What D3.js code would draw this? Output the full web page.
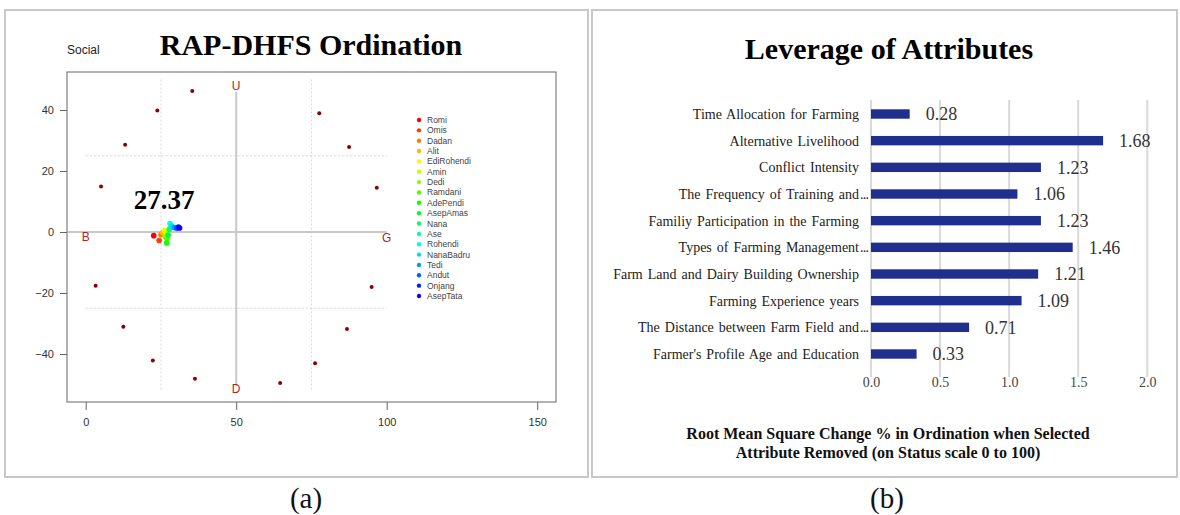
<!DOCTYPE html>
<html><head><meta charset="utf-8">
<script src="https://cdnjs.cloudflare.com/ajax/libs/d3/7.8.5/d3.min.js"></script>
<style>body{margin:0;background:#fff}svg{display:block}</style>
</head><body><svg id="c" width="1180" height="515"></svg>
<script>
// ---------- Data: panel (a) ordination ----------
const fisheryNames = ["Romi","Omis","Dadan","Alit","EdiRohendi","Amin","Dedi","Ramdani","AdePendi","AsepAmas","Nana","Ase","Rohendi","NanaBadru","Tedi","Andut","Onjang","AsepTata"];
const fisheryX = [22.6,24.4,25.0,25.6,26.2,26.6,26.4,27.0,26.9,27.4,27.8,28.3,28.0,28.6,29.4,30.2,30.8,31.2];
const fisheryY = [-1.2,-2.8,-0.9,-0.2,0.5,0.0,-1.5,-2.2,-3.6,-1.0,0.9,2.3,2.8,1.9,1.5,1.2,1.6,1.3];
const anchorX = [35.4,23.8,13.1,5.1,77.6,87.5,96.7,3.3,12.5,22.3,36.3,64.6,76.2,86.8,95.0];
const anchorY = [46.2,39.8,28.6,14.9,38.9,27.9,14.5,-17.6,-31.1,-42.1,-48.1,-49.5,-43.0,-31.8,-18.0];
const refLabels = ["U","D","B","G"];
const refX = [50,50,0,100];
const refY = [48,-51.5,-1.5,-2];
const xTicksA = [0,50,100,150];
const yTicksA = [-40,-20,0,20,40];
const scoreA = "27.37";

// ---------- Data: panel (b) leverage ----------
const attributes = ["Time Allocation for Farming","Alternative Livelihood","Conflict Intensity","The Frequency of Training and...","Familiy Participation in the Farming","Types of Farming Management...","Farm Land and Dairy Building Ownership","Farming Experience years","The Distance between Farm Field and...","Farmer's Profile Age and Education"];
const leverage = [0.28,1.68,1.23,1.06,1.23,1.46,1.21,1.09,0.71,0.33];
const xTicksB = [0,0.5,1,1.5,2];

const svg = d3.select("#c");
const SERIF = "'Liberation Serif','Times New Roman',serif";
const SANS = "'Liberation Sans',Arial,sans-serif";

// panel frames
svg.append("rect").attr("x",5).attr("y",10).attr("width",583).attr("height",467).attr("fill","none").attr("stroke","#c8c8c8").attr("stroke-width",2);
svg.append("rect").attr("x",592).attr("y",10).attr("width",585).attr("height",467).attr("fill","none").attr("stroke","#c8c8c8").attr("stroke-width",2);
svg.append("text").attr("x",306).attr("y",508).attr("text-anchor","middle").attr("font-family",SERIF).attr("font-size",29).attr("fill","#111").text("(a)");
svg.append("text").attr("x",887).attr("y",508).attr("text-anchor","middle").attr("font-family",SERIF).attr("font-size",29).attr("fill","#111").text("(b)");

// ---------- Panel (a) ----------
const xA = d3.scaleLinear().domain([0,150]).range([85.7,537.2]);
const yA = d3.scaleLinear().domain([-40,40]).range([354,110]);
const gA = svg.append("g");
gA.append("text").attr("x",311).attr("y",55).attr("text-anchor","middle").attr("font-family",SERIF).attr("font-weight","bold").attr("font-size",30).attr("fill","#000").text("RAP-DHFS Ordination");
gA.append("text").attr("x",67).attr("y",54).attr("font-family",SANS).attr("font-size",12).attr("fill","#222").text("Social");

// dotted guide lines
[25,75].forEach(v=>gA.append("line").attr("x1",xA(v)).attr("x2",xA(v)).attr("y1",yA(50)).attr("y2",yA(-52)).attr("stroke","#d8d8d8").attr("stroke-width",1).attr("stroke-dasharray","2,2"));
[25,-25].forEach(v=>gA.append("line").attr("x1",xA(0)).attr("x2",xA(100)).attr("y1",yA(v)).attr("y2",yA(v)).attr("stroke","#d8d8d8").attr("stroke-width",1).attr("stroke-dasharray","2,2"));
// solid reference lines
gA.append("line").attr("x1",xA(-6)).attr("x2",xA(100)).attr("y1",yA(0)).attr("y2",yA(0)).attr("stroke","#c8c8c8").attr("stroke-width",2);
gA.append("line").attr("x1",xA(50)).attr("x2",xA(50)).attr("y1",yA(46)).attr("y2",yA(-50.5)).attr("stroke","#c8c8c8").attr("stroke-width",2);

// plot box
gA.append("rect").attr("x",67).attr("y",72).attr("width",489).attr("height",330).attr("fill","none").attr("stroke","#666").attr("stroke-width",1);

// axes
const axB = d3.axisBottom(xA).tickValues(xTicksA).tickSize(8).tickPadding(8).tickFormat(d3.format("d"));
const gx = gA.append("g").attr("transform","translate(0,402)").call(axB);
gx.select(".domain").remove();
gx.selectAll("line").attr("stroke","#666");
gx.selectAll("text").attr("font-family",SANS).attr("font-size",11).attr("fill","#333");
const axL = d3.axisLeft(yA).tickValues(yTicksA).tickSize(7).tickPadding(6).tickFormat(d3.format("d"));
const gy = gA.append("g").attr("transform","translate(67,0)").call(axL);
gy.select(".domain").remove();
gy.selectAll("line").attr("stroke","#666");
gy.selectAll("text").attr("font-family",SANS).attr("font-size",11).attr("fill","#333");

// anchor points
gA.selectAll("circle.anc").data(anchorX.map((x,i)=>[x,anchorY[i]])).enter().append("circle")
  .attr("cx",d=>xA(d[0])).attr("cy",d=>yA(d[1])).attr("r",2).attr("fill","#8b0000");
// reference labels
gA.selectAll("text.ref").data(refLabels).enter().append("text")
  .attr("x",(d,i)=>xA(refX[i])).attr("y",(d,i)=>yA(refY[i])).attr("dy","0.35em").attr("text-anchor","middle")
  .attr("font-family",SANS).attr("font-size",12).attr("fill","#b22222").text(d=>d);
// score label
gA.append("text").attr("x",164).attr("y",209).attr("text-anchor","middle").attr("font-family",SERIF).attr("font-weight","bold").attr("font-size",27).attr("fill","#000").text(scoreA);

const col = i => d3.hsl(i*14.5,1,0.5).toString();
gA.selectAll("circle.f").data(fisheryNames).enter().append("circle")
  .attr("cx",(d,i)=>xA(fisheryX[i])).attr("cy",(d,i)=>yA(fisheryY[i])).attr("r",2.8).attr("fill",(d,i)=>col(i));

// legend
const lg = gA.append("g");
const ly = d3.scalePoint().domain(fisheryNames).range([120,296]);
fisheryNames.forEach((n,i)=>{
  lg.append("circle").attr("cx",419).attr("cy",ly(n)).attr("r",2.2).attr("fill",col(i));
  lg.append("text").attr("x",427).attr("y",ly(n)).attr("dy","0.35em").attr("font-family",SANS).attr("font-size",8.5).attr("fill","#444").text(n);
});

// ---------- Panel (b) ----------
const xB = d3.scaleLinear().domain([0,2]).range([871,1147.3]);
const yB = d3.scalePoint().domain(attributes).range([114,354]);
const gB = svg.append("g");
gB.append("text").attr("x",889).attr("y",59).attr("text-anchor","middle").attr("font-family",SERIF).attr("font-weight","bold").attr("font-size",30).attr("fill","#000").text("Leverage of Attributes");
gB.selectAll("line.grid").data(xTicksB).enter().append("line")
  .attr("x1",d=>xB(d)).attr("x2",d=>xB(d)).attr("y1",100).attr("y2",377).attr("stroke","#d9d9d9").attr("stroke-width",2);
gB.selectAll("rect.bar").data(attributes).enter().append("rect")
  .attr("x",xB(0)).attr("y",d=>yB(d)-4.7).attr("width",(d,i)=>xB(leverage[i])-xB(0)).attr("height",9.4).attr("fill","#1f2f8e");
gB.selectAll("text.val").data(attributes).enter().append("text")
  .attr("x",(d,i)=>xB(leverage[i])+16).attr("y",d=>yB(d)).attr("dy","0.35em")
  .attr("font-family",SERIF).attr("font-size",18).attr("fill","#333").text((d,i)=>leverage[i].toFixed(2));
attributes.forEach(a=>{
  const tr = a.endsWith("...");
  const base = tr ? a.slice(0,-3) : a;
  gB.append("text").attr("x",859).attr("y",yB(a)).attr("dy","0.35em").attr("text-anchor","end")
    .attr("font-family",SERIF).attr("font-size",14).attr("word-spacing",1.5).attr("fill","#222").text(base);
  if (tr) gB.append("text").attr("x",860).attr("y",yB(a)).attr("dy","0.35em")
    .attr("font-family",SERIF).attr("font-size",14).attr("letter-spacing",-0.8).attr("fill","#222").text("...");
});
const axBB = d3.axisBottom(xB).tickValues(xTicksB).tickSize(0).tickPadding(0).tickFormat(d3.format(".1f"));
const gbx = gB.append("g").attr("transform","translate(0,377)").call(axBB);
gbx.select(".domain").remove();
gbx.selectAll("text").attr("font-family",SERIF).attr("font-size",14).attr("fill","#444");
gB.append("text").attr("x",888).attr("y",439).attr("text-anchor","middle").attr("font-family",SERIF).attr("font-weight","bold").attr("font-size",16).attr("fill","#111").text("Root Mean Square Change % in Ordination when Selected");
gB.append("text").attr("x",888).attr("y",458).attr("text-anchor","middle").attr("font-family",SERIF).attr("font-weight","bold").attr("font-size",16).attr("fill","#111").text("Attribute Removed (on Status scale 0 to 100)");
</script></body></html>
